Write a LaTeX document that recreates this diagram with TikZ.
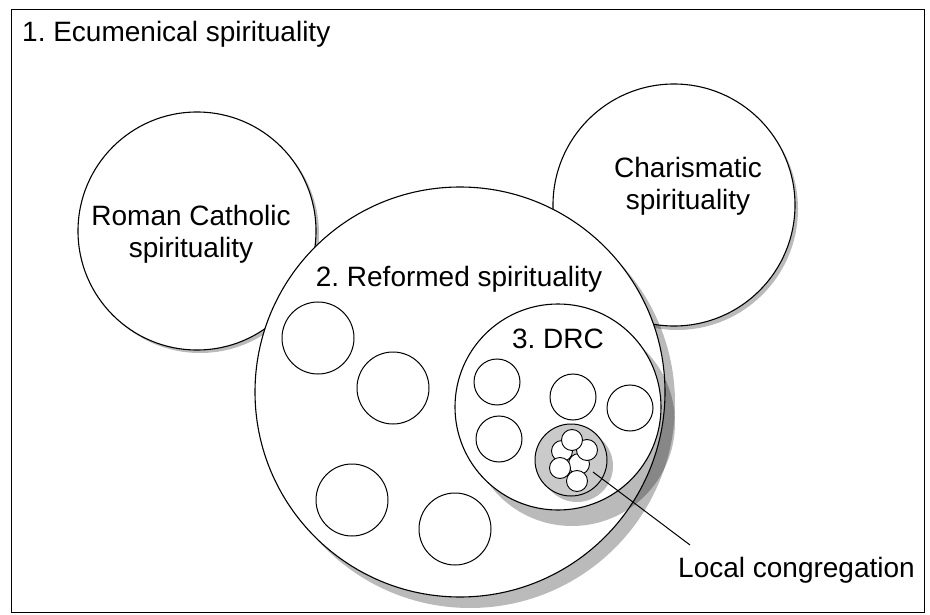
\documentclass[tikz,border=0pt]{standalone}
\usepackage{fontspec}
\setmainfont{Liberation Sans}
\frenchspacing
\begin{document}
\begin{tikzpicture}[x=1pt,y=-1pt,
  lbl/.style={inner sep=0pt, font=\fontsize{28}{32}\selectfont, align=center},
  ring/.style={circle, draw=black, fill=white, line width=1.1pt, inner sep=0pt},
  shadowc/.style={fill=black, opacity=0.27},
  smallc/.style={circle, draw=black, fill=white, line width=1pt, inner sep=0pt, minimum size=72pt},
  drcc/.style={circle, draw=black, fill=white, line width=1pt, inner sep=0pt, minimum size=46pt},
  tinyc/.style={circle, draw=black, fill=white, line width=0.9pt, inner sep=0pt, minimum size=21pt}]
\useasboundingbox (0,0) rectangle (930,615);
\fill[white] (0,0) rectangle (930,615);
\node[draw=black, line width=1.2pt, inner sep=0pt, minimum width=913pt, minimum height=603pt, anchor=north west] (frame) at (11,9) {};
\node[lbl, anchor=base west] (ecum) at (22,42) {1. Ecumenical spirituality};
% Roman Catholic
\fill[shadowc] (200,234) circle (119);
\node[ring, minimum size=238pt] (rc) at (197,231) {};
\node[lbl] (rclbl) at (191,234) {Roman Catholic\\spirituality};
% Charismatic
\fill[shadowc] (677,209) circle (121);
\node[ring, minimum size=242pt] (ch) at (674,205) {};
\node[lbl] (chlbl) at (688,186) {Charismatic\\spirituality};
% Reformed
\fill[shadowc] (470,403) circle (205);
\node[ring, minimum size=410pt] (ref) at (460,392) {};
\node[lbl, anchor=base] (reflbl) at (459,287) {2. Reformed spirituality};
\node[smallc] (s1) at (318,338) {};
\node[smallc] (s2) at (393,388) {};
\node[smallc] (s3) at (352,500) {};
\node[smallc] (s4) at (455,529) {};
% DRC
\fill[shadowc] (572,423) circle (103);
\node[ring, minimum size=206pt] (drc) at (558,407) {};
\node[lbl, anchor=base] (drclbl) at (558,348) {3. DRC};
\node[drcc] (d1) at (497,382) {};
\node[drcc] (d2) at (573,397) {};
\node[drcc] (d3) at (630,408) {};
\node[drcc] (d4) at (499,439) {};
% Local congregation
\fill[shadowc] (577,466) circle (36);
\node[circle, draw=black, fill={rgb,255:red,202;green,202;blue,202}, line width=1pt, inner sep=0pt, minimum size=72pt] (lc) at (571,460) {};
\node[tinyc] (t0) at (579,464) {};
\node[tinyc] (t1) at (562,451) {};
\node[tinyc] (t2) at (587,450) {};
\node[tinyc] (t3) at (560,468) {};
\node[tinyc] (t4) at (577,481) {};
\node[tinyc] (t5) at (572,440) {};
\coordinate (lcp) at (593,472);
\node[lbl, anchor=base west] (lclbl) at (678,577) {Local congregation};
\coordinate (lend) at (690,545);
\draw[line width=1pt] (lcp) -- (lend);
\end{tikzpicture}
\end{document}
